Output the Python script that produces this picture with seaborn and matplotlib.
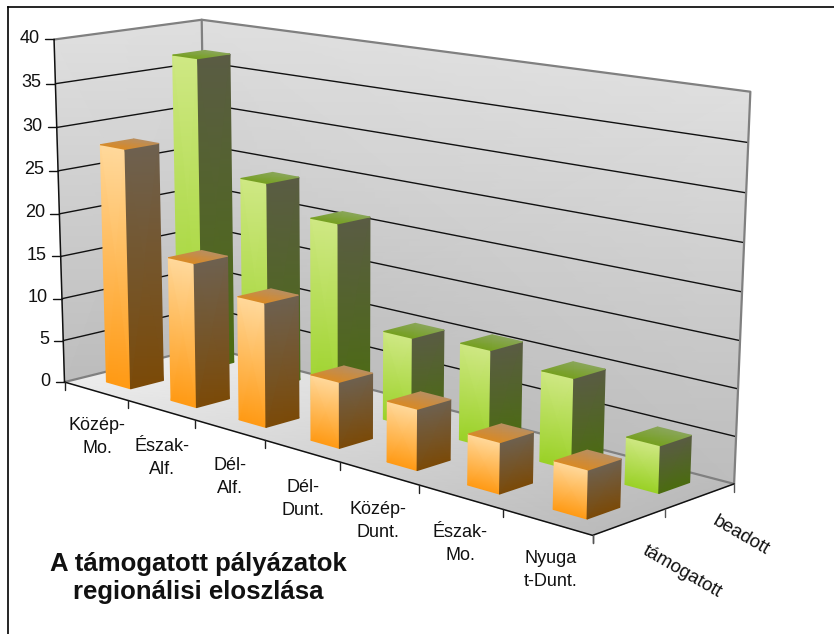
import numpy as np
import matplotlib
matplotlib.use("Agg")
import matplotlib.pyplot as plt
import seaborn as sns

categories = ["Közép-\nMo.", "Észak-\nAlf.", "Dél-\nAlf.", "Dél-\nDunt.", "Közép-\nDunt.", "Észak-\nMo.", "Nyuga\nt-Dunt."]
series_names = ["támogatott", "beadott"]
tamogatott = [28, 16.6, 14, 7.3, 6.6, 5.4, 5]
beadott = [37, 24, 21, 10, 10.7, 9.8, 5]
yticks = [0, 5, 10, 15, 20, 25, 30, 35, 40]
title = "A támogatott pályázatok\nregionálisi eloszlása"

W, H = 834, 634
sns.set_theme(style="white", rc={"font.family": ["Liberation Sans", "DejaVu Sans"]})
fig = plt.figure(figsize=(W / 100, H / 100), dpi=100)
x0, y0 = 8, 7
ax = fig.add_axes([x0 / W, 0, 1 - x0 / W, 1 - y0 / H])
ax.set_xlim(x0, W)
ax.set_ylim(H, y0)
ax.set_xticks([]); ax.set_yticks([])
sns.despine(ax=ax, top=False, right=True, left=False, bottom=True)
for s in ("top", "left"):
    ax.spines[s].set_color("black"); ax.spines[s].set_linewidth(1.2)

# Perspective camera fitted to the box corners on screen
nx, ny, nz = len(categories), len(series_names), max(yticks)
anchors = [((0, 0, 0), (66, 382)), ((nx, 0, 0), (592, 536)), ((0, ny, 0), (205, 347)),
           ((nx, ny, 0), (735, 483)), ((0, 0, nz), (53, 39)), ((0, ny, nz), (203, 20)),
           ((nx, ny, nz), (750, 92))]
A, b = [], []
for (X, Y, Z), (u, v) in anchors:
    A.append([X, Y, Z, 1, 0, 0, 0, 0, -u * X, -u * Y, -u * Z]); b.append(u)
    A.append([0, 0, 0, 0, X, Y, Z, 1, -v * X, -v * Y, -v * Z]); b.append(v)
P = np.append(np.linalg.lstsq(np.array(A, float), np.array(b, float), rcond=None)[0], 1).reshape(3, 4)


def proj(X, Y, Z):
    q = P @ np.array([X, Y, Z, 1.0])
    return q[:2] / q[2]


def shade(corners, c_start, c_end, z=1):
    """corners: a0, a1, b1, b0 - smooth gradient from edge a to edge b."""
    a0, a1, b1, b0 = [proj(*c) for c in corners]
    cmap = sns.blend_palette([c_start, c_end], as_cmap=True)
    X = np.array([[a0[0], a1[0]], [b0[0], b1[0]]])
    Y = np.array([[a0[1], a1[1]], [b0[1], b1[1]]])
    C = np.array([[0.0, 0.0], [1.0, 1.0]])
    ax.pcolormesh(X, Y, C, cmap=cmap, vmin=0, vmax=1, shading="gouraud", zorder=z)


# Walls
shade([(0, 0, nz), (0, ny, nz), (0, ny, 0), (0, 0, 0)], "#DFDFDF", "#BDBDBD", z=1)
shade([(0, ny, nz), (nx, ny, nz), (nx, ny, 0), (0, ny, 0)], "#DFDFDF", "#BDBDBD", z=1)

# Floor: lighter at the far left, darker at the near right
shade([(0, ny, 0), (0, 0, 0), (nx, 0, 0), (nx, ny, 0)], "#EDEDED", "#BBBBBB", z=1)

# Grid
for v in yticks[1:-1]:
    pts = np.array([proj(0, 0, v), proj(0, ny, v), proj(nx, ny, v)])
    ax.plot(pts[:, 0], pts[:, 1], color="#111111", lw=1.0, zorder=2)
# Wall edges
top = np.array([proj(0, 0, nz), proj(0, ny, nz), proj(nx, ny, nz), proj(nx, ny, 0)])
ax.plot(top[:, 0], top[:, 1], color="#808080", lw=1.6, zorder=2)
back = np.array([proj(0, ny, nz), proj(0, ny, 0)])
ax.plot(back[:, 0], back[:, 1], color="#808080", lw=1.6, zorder=2)
base = np.array([proj(0, 0, 0), proj(0, ny, 0), proj(nx, ny, 0)])
ax.plot(base[:, 0], base[:, 1], color="#808080", lw=1.6, zorder=2)
# Axes lines
ln = np.array([proj(0, 0, nz), proj(0, 0, 0), proj(nx, 0, 0), proj(nx, ny, 0)])
ax.plot(ln[:, 0], ln[:, 1], color="#111111", lw=1.1, zorder=3)

# Ticks and labels
for v in yticks:
    p = proj(0, 0, v)
    ax.plot([p[0] - 9, p[0]], [p[1], p[1]], color="#111111", lw=1.0, zorder=3)
    ax.text(p[0] - 14, p[1] - 1, str(v), ha="right", va="center", fontsize=13, color="#111111")
for i in range(nx + 1):
    p = proj(i, 0, 0)
    ax.plot([p[0], p[0]], [p[1], p[1] + 8], color="#222222", lw=1.0, zorder=3)
for j in range(ny + 1):
    p = proj(nx, j, 0)
    ax.plot([p[0], p[0]], [p[1], p[1] + 8], color="#555555", lw=1.0, zorder=3)
label_xy = [(97, 437), (162, 458), (230, 477), (303, 499), (378, 521), (460, 544), (551, 570)]
for name, (u, v) in zip(categories, label_xy):
    ax.text(u, v, name, ha="center", va="center", fontsize=13, linespacing=1.45, color="#111111")
ax.text(682, 572, series_names[0], ha="center", va="center", rotation=-30, rotation_mode="anchor", fontsize=13.5, color="#111111")
ax.text(741, 536, series_names[1], ha="center", va="center", rotation=-30, rotation_mode="anchor", fontsize=13.5, color="#111111")
ax.text(198, 578, title, ha="center", va="center", fontsize=18.5, fontweight="bold", linespacing=1.22, color="#111111")

# Bars
bar_dx, bar_dy = 0.19, 0.225
styles = {
    0: dict(front=("#FFD99C", "#FF9A14"), side=("#6E6150", "#7B4A08"), top=("#B98F60", "#D98A25")),
    1: dict(front=("#CFE884", "#9AD126"), side=("#5A5C44", "#4B6C10"), top=("#8AA65A", "#76A020")),
}
zo = 5
for j, vals in [(1, beadott), (0, tamogatott)]:
    st = styles[j]
    yc = j + 0.53
    for i, v in enumerate(vals):
        x1, x2 = i + 0.5 - bar_dx, i + 0.5 + bar_dx
        y1, y2 = yc - bar_dy, yc + bar_dy
        shade([(x1, y1, v), (x2, y1, v), (x2, y1, 0), (x1, y1, 0)], *st["front"], z=zo)
        shade([(x2, y1, v), (x2, y2, v), (x2, y2, 0), (x2, y1, 0)], *st["side"], z=zo)
        shade([(x1, y2, v), (x2, y2, v), (x2, y1, v), (x1, y1, v)], *st["top"], z=zo)
        zo += 1

ax.set_xlim(x0, W)
ax.set_ylim(H, y0)
fig.savefig("out.png", dpi=100)
